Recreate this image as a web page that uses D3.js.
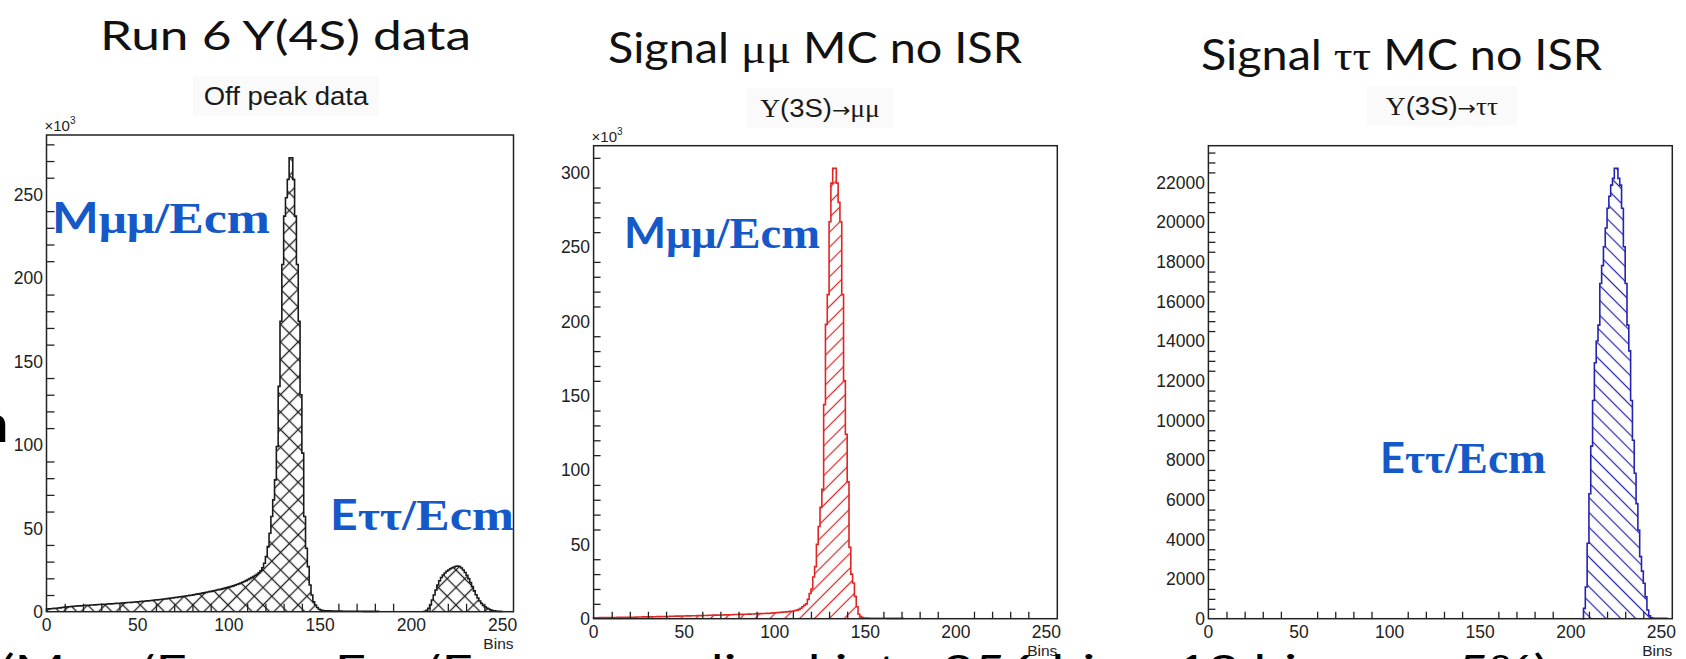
<!DOCTYPE html>
<html>
<head>
<meta charset="utf-8">
<script src="https://cdn.jsdelivr.net/npm/d3@7"></script>
<style>
  html, body { margin: 0; padding: 0; background: #fff; overflow: hidden; }
  svg { display: block; }
</style>
</head>
<body>
<svg id="chart" width="1686" height="659"></svg>
<script>
// ---------------- data ----------------
const binRange = [0, 256];
const xMajorTicks = [0, 50, 100, 150, 200, 250];

// Off-peak data, entries per bin (x10^3): mu-mu region, then tau-tau bump
const offPeakMainStart = 0;
const offPeakMain = [
  1.6, 1.7, 1.8, 1.9, 2.0, 2.1, 2.2, 2.3, 2.5, 2.6,
  2.8, 2.9, 3.0, 3.1, 3.2, 3.3, 3.4, 3.5, 3.5, 3.6,
  3.7, 3.8, 3.8, 3.9, 4.0, 4.0, 4.1, 4.2, 4.3, 4.3,
  4.4, 4.5, 4.5, 4.6, 4.7, 4.7, 4.8, 4.9, 5.0, 5.0,
  5.1, 5.2, 5.3, 5.4, 5.5, 5.5, 5.6, 5.7, 5.8, 5.9,
  6.0, 6.1, 6.2, 6.3, 6.4, 6.5, 6.6, 6.7, 6.8, 7.0,
  7.1, 7.2, 7.3, 7.5, 7.6, 7.7, 7.9, 8.0, 8.2, 8.3,
  8.5, 8.6, 8.8, 8.9, 9.1, 9.2, 9.4, 9.6, 9.8, 9.9,
  10.1, 10.3, 10.5, 10.7, 10.9, 11.1, 11.3, 11.6, 11.8, 12.0,
  12.2, 12.5, 12.7, 13.0, 13.2, 13.4, 13.7, 14.0, 14.3, 14.6,
  14.9, 15.2, 15.5, 15.9, 16.3, 16.7, 17.1, 17.6, 18.1, 18.6,
  19.2, 19.8, 20.4, 21.0, 21.7, 22.4, 23.3, 24.5, 26.3, 29.0,
  33, 39, 47, 57, 67, 79, 99, 135, 174, 208,
  237, 248, 259, 272, 272, 259, 237, 208, 174, 130,
  95, 57, 38, 27, 16, 10, 6, 4, 2.5, 1.5,
  1.0, 0.7, 0.6, 0.5, 0.5, 0.5, 0.4, 0.4, 0.4, 0.4,
  0.4, 0.4, 0.3, 0.3, 0.3, 0.3, 0.3, 0.3, 0.3, 0.3,
  0.3, 0.3, 0.3, 0.3, 0.2, 0.2, 0.2, 0.2, 0.2, 0.2, 0.2, 0.2
];
const offPeakTauStart = 207;
const offPeakTau = [
  0.3, 0.8, 2, 4, 7, 10, 13, 16, 18.5, 20.5,
  22, 23.2, 24.2, 25, 25.7, 26.3, 26.8, 27.2, 27.4, 27.1,
  26.2, 25, 23.5, 21.8, 19.8, 17.5, 15, 12.5, 10.2, 8.2,
  6.4, 5, 3.8, 2.9, 2.2, 1.6, 1.1, 0.7, 0.5, 0.4,
  0.3, 0.2, 0.1
];

// Y(3S) -> mu mu signal MC, entries per bin (x10^3)
const mumuStart = 0;
const mumuCounts = [
  0.6, 0.6, 0.6, 0.7, 0.7, 0.7, 0.7, 0.7, 0.8, 0.8,
  0.8, 0.8, 0.8, 0.9, 0.9, 0.9, 0.9, 0.9, 1.0, 1.0,
  1.0, 1.0, 1.0, 1.1, 1.1, 1.1, 1.1, 1.2, 1.2, 1.2,
  1.2, 1.3, 1.3, 1.3, 1.3, 1.4, 1.4, 1.4, 1.5, 1.5,
  1.5, 1.5, 1.6, 1.6, 1.6, 1.7, 1.7, 1.7, 1.8, 1.8,
  1.8, 1.9, 1.9, 1.9, 2.0, 2.0, 2.0, 2.1, 2.1, 2.1,
  2.2, 2.2, 2.2, 2.3, 2.3, 2.3, 2.4, 2.4, 2.4, 2.5,
  2.5, 2.5, 2.6, 2.6, 2.6, 2.7, 2.7, 2.8, 2.8, 2.8,
  2.9, 2.9, 3.0, 3.0, 3.0, 3.1, 3.1, 3.2, 3.2, 3.3,
  3.3, 3.4, 3.4, 3.5, 3.5, 3.6, 3.6, 3.7, 3.8, 3.9,
  4.0, 4.1, 4.2, 4.3, 4.4, 4.5, 4.6, 4.7, 4.9, 5.0,
  5.2, 5.5, 5.8, 6.3, 7.0, 8.0, 9.0, 10, 13, 17,
  20, 28, 35, 50, 62, 75, 87, 144, 198, 218,
  267, 293, 303, 303, 293, 280, 267, 218, 160, 124,
  92, 48, 30, 24, 15, 8, 3, 1.5, 0.8, 0.5,
  0.4, 0.4, 0.3, 0.3, 0.3, 0.3, 0.3, 0.3, 0.3, 0.3,
  0.3, 0.3, 0.2, 0.2, 0.2, 0.2, 0.2, 0.2, 0.2, 0.2, 0.2
];

// Y(3S) -> tau tau signal MC, entries per bin
const tautauStart = 206;
const tautauCounts = [
  0, 520, 1600, 3800, 6300, 8700, 11000, 12900, 14000, 14800,
  16900, 17800, 18750, 19700, 20690, 21300, 21860, 22200, 22710, 22710,
  22200, 21860, 20690, 18750, 16900, 14800, 13500, 11000, 9000, 7330,
  5800, 4470, 3130, 2400, 1790, 1100, 440, 150, 40, 20,
  20, 20, 20, 20, 20, 20, 20
];

const yTicksOffPeak = [0, 50, 100, 150, 200, 250];
const yTicksMumu = [0, 50, 100, 150, 200, 250, 300];
const yTicksTautau = [0, 2000, 4000, 6000, 8000, 10000, 12000, 14000, 16000, 18000, 20000, 22000];

// ---------------- drawing ----------------
const svg = d3.select("#chart");
const defs = svg.append("defs");
const TITLE_STRETCH = 1.1;      // plot titles are slightly wider than the font
const ANNOT_BLUE = "#1558c8";
const sans = "'Liberation Sans', Arial, sans-serif";
const serif = "'Liberation Serif', 'Times New Roman', serif";
const slideFont = "Lato, 'Open Sans', sans-serif";

function hatch(id, color, spacing, angle, cross, width) {
  const p = defs.append("pattern")
    .attr("id", id)
    .attr("patternUnits", "userSpaceOnUse")
    .attr("width", spacing).attr("height", spacing)
    .attr("patternTransform", `rotate(${angle})`);
  p.append("line").attr("x1", 0).attr("x2", spacing)
    .attr("y1", spacing / 2).attr("y2", spacing / 2)
    .attr("stroke", color).attr("stroke-width", width);
  if (cross) {
    p.append("line").attr("y1", 0).attr("y2", spacing)
      .attr("x1", spacing / 2).attr("x2", spacing / 2)
      .attr("stroke", color).attr("stroke-width", width);
  }
}
hatch("hatchCross", "#222", 12.4, 45, true, 1.3);
hatch("hatchRed", "#e02525", 10.5, -45, false, 1.2);
hatch("hatchBlue", "#2424b0", 10.5, 45, false, 1.2);

function label(g, x, y, str, opts) {
  const t = g.append("text")
    .attr("x", x).attr("y", y)
    .attr("font-family", sans)
    .attr("font-size", opts.size || 17.5)
    .attr("fill", opts.fill || "#222")
    .attr("text-anchor", opts.anchor || "start");
  if (opts.dy) t.attr("dy", opts.dy);
  t.text(str);
  return t;
}

function histPoints(start, values) {
  const pts = [[start, 0]];
  values.forEach((v, i) => {
    pts.push([start + i, v]);
    pts.push([start + i + 1, v]);
  });
  pts.push([start + values.length, 0]);
  return pts;
}

function drawPanel(cfg) {
  const g = svg.append("g");
  const x = d3.scaleLinear().domain(binRange).range([cfg.left, cfg.right]);
  const yMax = d3.max(cfg.segments, s => d3.max(s.values)) * 1.05;
  const y = d3.scaleLinear().domain([0, yMax]).range([cfg.bottom, cfg.top]);

  // histogram segments
  const line = d3.line().x(d => x(d[0])).y(d => y(d[1]));
  cfg.segments.forEach(s => {
    const pts = histPoints(s.start, s.values);
    g.append("path").attr("d", line(pts) + "Z")
      .attr("fill", `url(#${cfg.pattern})`).attr("stroke", "none");
    g.append("path").attr("d", line(pts))
      .attr("fill", "none").attr("stroke", cfg.color)
      .attr("stroke-width", 1.6).attr("stroke-linejoin", "miter");
  });

  // ticks (drawn inward)
  const yMinor = d3.range(0, yMax, cfg.yMinorStep).filter(v => !cfg.yTicks.includes(v));
  const xMinor = d3.range(0, 251, 10).filter(v => !xMajorTicks.includes(v));
  const yAx = g.append("g").attr("transform", `translate(${cfg.left},0)`);
  yAx.call(d3.axisLeft(y).tickValues(cfg.yTicks).tickSize(-cfg.major).tickFormat(""));
  yAx.call(d3.axisLeft(y).tickValues(yMinor).tickSize(-cfg.minor).tickFormat(""));
  const xAx = g.append("g").attr("transform", `translate(0,${cfg.bottom})`);
  xAx.call(d3.axisBottom(x).tickValues(xMajorTicks).tickSize(-cfg.major).tickFormat(""));
  xAx.call(d3.axisBottom(x).tickValues(xMinor).tickSize(-cfg.minor).tickFormat(""));
  g.selectAll(".domain").remove();
  g.selectAll(".tick line").attr("stroke", "#222").attr("stroke-width", 1.3);

  // frame
  g.append("rect")
    .attr("x", cfg.left).attr("y", cfg.top)
    .attr("width", cfg.right - cfg.left).attr("height", cfg.bottom - cfg.top)
    .attr("fill", "none").attr("stroke", "#222").attr("stroke-width", 1.5);

  // tick labels
  cfg.yTicks.forEach(v => {
    label(g, cfg.left - 3.5, y(v), String(v), { anchor: "end", dy: "0.36em" });
  });
  xMajorTicks.forEach(v => {
    label(g, x(v), cfg.bottom + 19, String(v), { anchor: "middle" });
  });
  label(g, cfg.right, cfg.bottom + 37, "Bins", { anchor: "end", size: 15.5 });

  if (cfg.exponent) {
    const t = label(g, cfg.left - 2, cfg.top - 4, "", { size: 15 });
    t.append("tspan").text("×10");
    t.append("tspan").attr("font-size", 10).attr("dy", -7).text("3");
  }
  return { g, x, y };
}

// plot titles on a faint box
function plotTitle(x, y, w, h, parts) {
  svg.append("rect").attr("x", x).attr("y", y).attr("width", w).attr("height", h)
    .attr("fill", "#fafafa");
  const t = svg.append("text")
    .attr("transform", `translate(${x + w / 2},${y + h - 11}) scale(${TITLE_STRETCH},1)`)
    .attr("text-anchor", "middle")
    .attr("font-size", 25).attr("fill", "#1a1a1a");
  parts.forEach(p => {
    const s = t.append("tspan").attr("font-family", p.font).text(p.text);
    if (p.size) s.attr("font-size", p.size);
  });
}

drawPanel({
  left: 46.5, right: 513.5, top: 135, bottom: 611.7,
  segments: [
    { start: offPeakMainStart, values: offPeakMain },
    { start: offPeakTauStart, values: offPeakTau }
  ],
  pattern: "hatchCross", color: "#1a1a1a",
  yTicks: yTicksOffPeak, yMinorStep: 10,
  major: 15, minor: 8, exponent: true
});
drawPanel({
  left: 593.6, right: 1057.3, top: 145.7, bottom: 618.7,
  segments: [{ start: mumuStart, values: mumuCounts }],
  pattern: "hatchRed", color: "#e02525",
  yTicks: yTicksMumu, yMinorStep: 10,
  major: 13.5, minor: 7, exponent: true
});
drawPanel({
  left: 1208.4, right: 1672.3, top: 145.7, bottom: 618.7,
  segments: [{ start: tautauStart, values: tautauCounts }],
  pattern: "hatchBlue", color: "#2424b0",
  yTicks: yTicksTautau, yMinorStep: 500,
  major: 14, minor: 7, exponent: false
});

plotTitle(193, 76, 186, 40, [{ font: sans, text: "Off peak data" }]);
plotTitle(746, 88, 148, 40, [
  { font: serif, text: "Y" }, { font: sans, text: "(3S)" },
  { font: "'DejaVu Sans', sans-serif", text: "→", size: 20 },
  { font: serif, text: "μμ" }
]);
plotTitle(1367, 86, 150, 40, [
  { font: serif, text: "Y" }, { font: sans, text: "(3S)" },
  { font: "'DejaVu Sans', sans-serif", text: "→", size: 20 },
  { font: serif, text: "ττ" }
]);

// slide headings
function heading(x, y, len, parts, size) {
  const t = svg.append("text").attr("x", x).attr("y", y)
    .attr("font-size", size).attr("fill", "#111")
    .attr("textLength", len).attr("lengthAdjust", "spacingAndGlyphs");
  parts.forEach(p => t.append("tspan").attr("font-family", p.font).text(p.text));
  return t;
}
heading(100, 50, 371, [{ font: slideFont, text: "Run 6 Y(4S) data" }], 41);
heading(608, 63, 414, [
  { font: slideFont, text: "Signal " }, { font: serif, text: "μμ" },
  { font: slideFont, text: " MC no ISR" }
], 42);
heading(1201, 70, 401, [
  { font: slideFont, text: "Signal " }, { font: serif, text: "ττ" },
  { font: slideFont, text: " MC no ISR" }
], 42);

// blue variable labels
function varLabel(x, y, len, lead, greek) {
  const t = svg.append("text").attr("x", x).attr("y", y)
    .attr("fill", ANNOT_BLUE).attr("font-size", 42)
    .attr("textLength", len).attr("lengthAdjust", "spacingAndGlyphs");
  t.append("tspan").attr("font-family", slideFont).attr("font-weight", 700).text(lead);
  t.append("tspan").attr("font-family", serif).attr("font-weight", 700).text(greek);
  t.append("tspan").attr("font-family", serif).attr("font-weight", 700)
    .attr("font-size", 44).text("/Ecm");
}
varLabel(52, 233, 218, "M", "μμ");
varLabel(624, 248, 196, "M", "μμ");
varLabel(330, 530, 184, "E", "ττ");
varLabel(1380, 473, 166, "E", "ττ");

// text running off the slide edges
svg.append("text").attr("x", 8).attr("y", 442).attr("text-anchor", "end")
  .attr("font-family", slideFont).attr("font-weight", 900).attr("font-size", 52)
  .attr("fill", "#000").text("n");
svg.append("text").attr("x", 0).attr("y", 684)
  .attr("font-family", slideFont).attr("font-size", 40).attr("fill", "#000")
  .attr("textLength", 1548).attr("lengthAdjust", "spacingAndGlyphs")
  .text("(Mμμ/Ecm  or  Eττ/Ecm  normalized into 256 bins, 12 bins per 5%)");
</script>
</body>
</html>
